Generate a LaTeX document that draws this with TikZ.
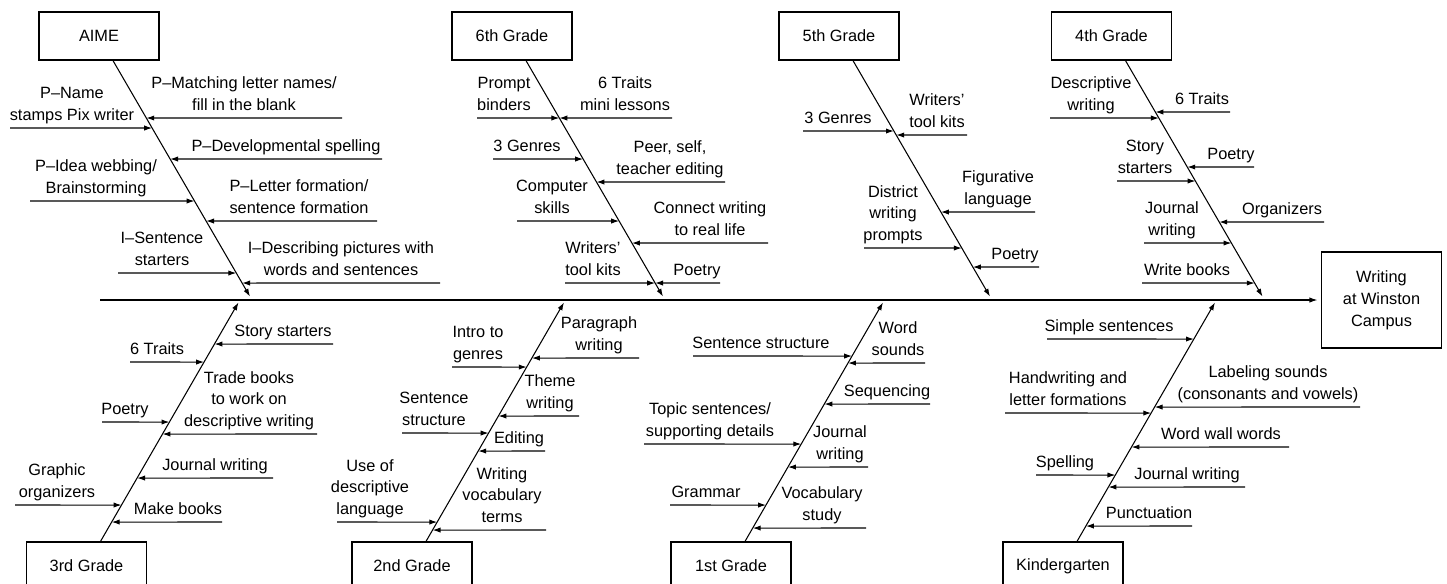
\documentclass[tikz,border=0pt]{standalone}
\usepackage{fontspec}
\setmainfont{Liberation Sans}
\usetikzlibrary{arrows.meta,calc}

\tikzset{
  grade/.style={draw, line width=0.7pt, minimum width=2.4cm, minimum height=0.96cm, align=center, inner sep=0pt},
  bone/.style={line width=0.6pt, -{Latex[length=4.5pt,width=3pt]}},
  rib/.style={line width=0.6pt, -{Latex[length=4.5pt,width=3pt]}},
  cause/.style={anchor=base, align=center, inner sep=0pt},
}

% one bone: y of rib / free end / label x / label
\newcommand{\causes}[2]{%
  \foreach \y/\xf/\xl/\txt [count=\i] in {#2}{
    \coordinate (#1F\i) at (\xf,\y);
    \node[cause] (#1C\i) at (\xl,\y-8) {\txt};
    \draw[rib] (#1F\i) -- (intersection of #1S--#1E and 0,\y--1,\y);
  }}

\begin{document}
\begin{tikzpicture}[x=0.02cm, y=-0.02cm, font=\fontsize{9.3}{12}\selectfont]
  \useasboundingbox (0,0) rectangle (1447,583);

  % Effect and spine
  \node[grade, minimum height=1.92cm, font=\fontsize{9.3}{12.5}\selectfont] (effect) at (1381.5,300) {Writing\\at Winston\\Campus};
  \coordinate (tail) at (100,300);
  \draw[bone, shorten >=2pt] (tail) -- (effect.west);

  % Top categories
  \node[grade] (aime) at (99,36) {AIME};
  \node[grade] (g6) at (512,36) {6th Grade};
  \node[grade] (g5) at (839,36) {5th Grade};
  \node[grade] (g4) at (1111.5,36) {4th Grade};

  % Bottom categories
  \node[grade] (g3) at (86.5,566) {3rd Grade};
  \node[grade] (g2) at (412,566) {2nd Grade};
  \node[grade] (g1) at (731,566) {1st Grade};
  \node[grade] (gk) at (1063,566) {Kindergarten};

  % Bones
  \foreach \g in {aime,g6,g5,g4}
    \draw[bone] ($(\g.south)+(14,0)$) coordinate (\g S) -- ++(137,236) coordinate (\g E);
  \foreach \g in {g3,g2,g1,gk}
    \draw[bone] ($(\g.north)+(14,0)$) coordinate (\g S) -- ++(138,-239) coordinate (\g E);

  % AIME
  \causes{aime}{128/10/72/{P–Name\\stamps Pix writer},
    118/342/244/{P–Matching letter names/\\fill in the blank},
    159/382/286/{P–Developmental spelling},
    201/30/96/{P–Idea webbing/\\Brainstorming},
    221/377/299/{P–Letter formation/\\sentence formation},
    273/118/162/{I–Sentence\\starters},
    283/440/341/{I–Describing pictures with\\words and sentences}}

  % 6th Grade
  \causes{g6}{118/477/504/{Prompt\\binders},
    118/672/625/{6 Traits\\mini lessons},
    159/493/527/{3 Genres},
    182/725/670/{Peer, self,\\teacher editing},
    221/517/552/{Computer\\skills},
    243/768/710/{Connect writing\\to real life},
    283/565/593/{Writers’\\tool kits},
    283/720/697/{Poetry}}

  % 5th Grade
  \causes{g5}{131/803/838/{3 Genres},
    135/967/937/{Writers’\\tool kits},
    212/1035/998/{Figurative\\language},
    248/864/893/{District\\writing\\prompts},
    267/1039/1015/{Poetry}}

  % 4th Grade
  \causes{g4}{118/1050/1091/{Descriptive\\writing},
    112/1230/1202/{6 Traits},
    181/1117/1145/{Story\\starters},
    167/1254/1231/{Poetry},
    243/1144/1172/{Journal\\writing},
    222/1324/1282/{Organizers},
    283/1142/1187/{Write books}}

  % 3rd Grade
  \causes{g3}{344/333/283/{Story starters},
    362/130/157/{6 Traits},
    434/317/249/{Trade books\\to work on\\descriptive writing},
    422/102/125/{Poetry},
    478/273/215/{Journal writing},
    505/15/57/{Graphic\\organizers},
    522/222/178/{Make books}}

  % 2nd Grade
  \causes{g2}{358/639/599/{Paragraph\\writing},
    367/452/478/{Intro to\\genres},
    416/579/550/{Theme\\writing},
    433/402/434/{Sentence\\structure},
    451/545/519/{Editing},
    522/337/370/{Use of\\descriptive\\language},
    530/546/502/{Writing\\vocabulary\\terms}}

  % 1st Grade
  \causes{g1}{356/693/761/{Sentence structure},
    363/925/898/{Word\\sounds},
    404/930/887/{Sequencing},
    444/644/710/{Topic sentences/\\supporting details},
    467/868/840/{Journal\\writing},
    505/670/706/{Grammar},
    528/866/822/{Vocabulary\\study}}

  % Kindergarten
  \causes{gk}{339/1047/1109/{Simple sentences},
    413/1005/1068/{Handwriting and\\letter formations},
    407/1360/1268/{Labeling sounds\\(consonants and vowels)},
    447/1289/1221/{Word wall words},
    475/1036/1065/{Spelling},
    487/1245/1187/{Journal writing},
    526/1192/1149/{Punctuation}}

\end{tikzpicture}
\end{document}
